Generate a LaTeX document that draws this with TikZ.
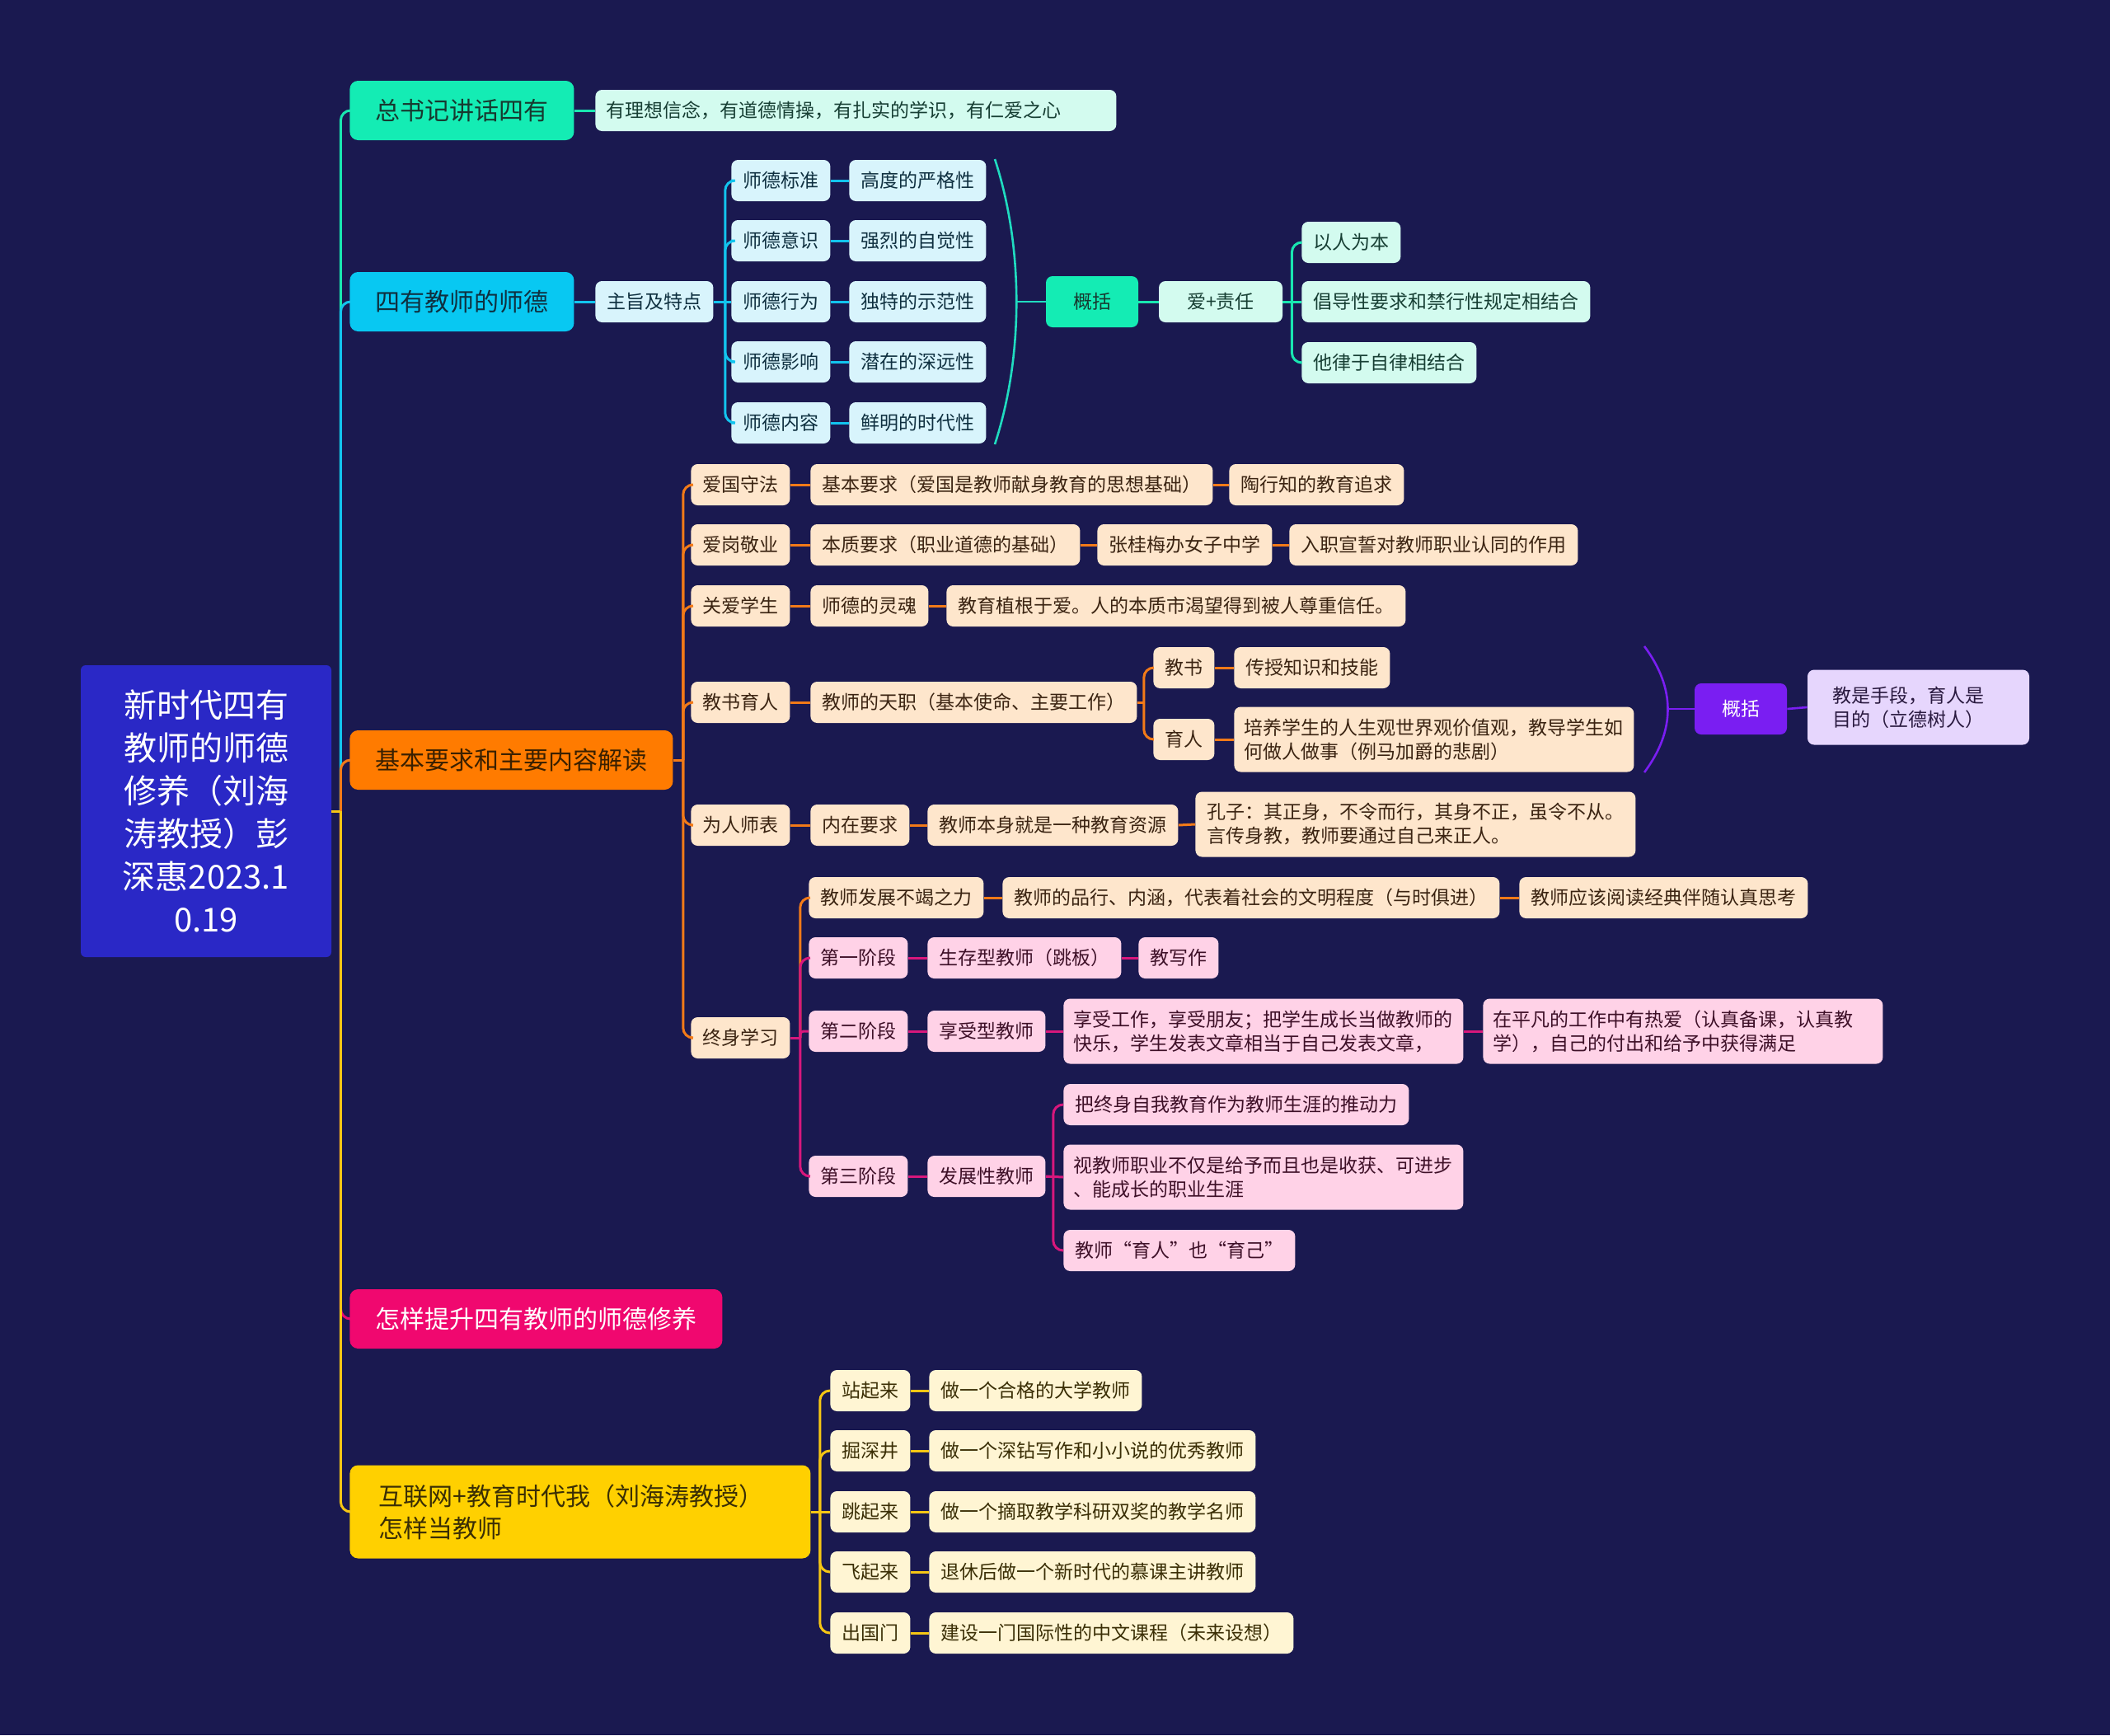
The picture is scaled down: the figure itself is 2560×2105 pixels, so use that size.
\documentclass[tikz,border=0pt]{standalone}
\usepackage{fontspec}
\setmainfont{Noto Sans CJK SC}
\definecolor{bg}{HTML}{1A1950}
\definecolor{rootc}{HTML}{2A28C6}
\definecolor{tealc}{HTML}{14ECB4}
\definecolor{tealtxt}{HTML}{17392F}
\definecolor{mint}{HTML}{D3FBEF}
\definecolor{minttxt}{HTML}{173F34}
\definecolor{cyanc}{HTML}{08C8F2}
\definecolor{cyantxt}{HTML}{0F3040}
\definecolor{lcyan}{HTML}{D8F4FC}
\definecolor{orangec}{HTML}{FF7B00}
\definecolor{orangetxt}{HTML}{3A2000}
\definecolor{peach}{HTML}{FEE6CC}
\definecolor{browntxt}{HTML}{3B2412}
\definecolor{pinkc}{HTML}{F0086F}
\definecolor{lpink}{HTML}{FFD2E7}
\definecolor{pinktxt}{HTML}{3E1028}
\definecolor{purplec}{HTML}{7A1EF2}
\definecolor{lavender}{HTML}{E6D6FD}
\definecolor{lavtxt}{HTML}{2A1A40}
\definecolor{yellowc}{HTML}{FFD000}
\definecolor{yellowtxt}{HTML}{3A2E05}
\definecolor{cream}{HTML}{FFF5D3}
\definecolor{lnA}{HTML}{19E6B0}
\definecolor{lnB}{HTML}{12C4EE}
\definecolor{lnC}{HTML}{F27A18}
\definecolor{lnD}{HTML}{EC0B6E}
\definecolor{lnE}{HTML}{F6C614}
\definecolor{lnP}{HTML}{D8177C}
\definecolor{lnBr}{HTML}{20DCC0}
\definecolor{lnPu}{HTML}{7A1EF2}
\tikzset{
  rootbox/.style={fill=rootc,text=white,rounded corners=3pt,minimum width=152pt,minimum height=177pt,align=center,inner sep=0pt,font=\fontsize{20}{26}\selectfont},
  lvlone/.style={anchor=west,rounded corners=5pt,inner xsep=15.5pt,inner ysep=0pt,minimum height=36pt,font=\fontsize{15}{19.5}\selectfont},
  sm/.style={anchor=west,rounded corners=4pt,inner xsep=7pt,inner ysep=1pt,minimum height=25pt,font=\fontsize{11.5}{14.5}\selectfont},
  ml/.style={text width=230pt,align=left,inner xsep=6.25pt,minimum height=39.5pt},
  famA/.style={fill=mint,text=minttxt},
  famB/.style={fill=lcyan,text=cyantxt},
  famC/.style={fill=peach,text=browntxt},
  famP/.style={fill=lpink,text=pinktxt},
  famE/.style={fill=cream,text=yellowtxt},
  summ/.style={anchor=center,minimum width=56pt,minimum height=31pt},
  lA/.style={draw=lnA,line width=1.5pt},
  lB/.style={draw=lnB,line width=1.5pt},
  lC/.style={draw=lnC,line width=1.5pt},
  lD/.style={draw=lnD,line width=1.5pt},
  lE/.style={draw=lnE,line width=1.5pt},
  lP/.style={draw=lnP,line width=1.5pt},
  lBr/.style={draw=lnBr,line width=1.3pt},
  lPu/.style={draw=lnPu,line width=1.3pt},
}
\newcommand\mmconn[4]{%
  \draw[#1] (#2.east) -- ++(#3,0) coordinate (mmtmp);
  \draw[#1,rounded corners=6pt] (mmtmp) |- (#4.west);
}
\newcommand\mmconnS[4]{%
  \draw[#1] (#2.east) -- ++(#3,0) coordinate (mmtmp);
  \draw[#1,rounded corners=2pt] (mmtmp) |- (#4.west);
}
\begin{document}
\begin{tikzpicture}[x=0.5pt,y=-0.5pt]
\fill[bg] (0,0) rectangle (2560,2105);
\useasboundingbox (0,0) rectangle (2560,2105);

% root
\node[rootbox] (root) at (250,984) {新时代四有\\教师的师德\\修养（刘海\\涛教授）彭\\深惠2023.1\\0.19};

% level one
\node[lvlone,fill=tealc,text=tealtxt] (A) at (424,134) {总书记讲话四有};
\node[lvlone,fill=cyanc,text=cyantxt] (B) at (424,366) {四有教师的师德};
\node[lvlone,fill=orangec,text=orangetxt] (C) at (424,922) {基本要求和主要内容解读};
\node[lvlone,fill=pinkc,text=white] (D) at (424,1600) {怎样提升四有教师的师德修养};
\node[lvlone,fill=yellowc,text=yellowtxt,text width=244.5pt,align=left,inner xsep=17.5pt,minimum height=56.5pt] (E) at (424,1834) {互联网+教育时代我（刘海涛教授）\\怎样当教师};

% A branch
\node[sm,famA,text width=303pt,align=left,inner xsep=6.5pt] (A1) at (722,134) {有理想信念，有道德情操，有扎实的学识，有仁爱之心};

% B branch
\node[sm,famB] (B1) at (722,366) {主旨及特点};
\node[sm,famB] (b21) at (887,219) {师德标准};
\node[sm,famB] (b22) at (887,292) {师德意识};
\node[sm,famB] (b23) at (887,366) {师德行为};
\node[sm,famB] (b24) at (887,439) {师德影响};
\node[sm,famB] (b25) at (887,513) {师德内容};
\node[sm,famB] (b31) at (1030,219) {高度的严格性};
\node[sm,famB] (b32) at (1030,292) {强烈的自觉性};
\node[sm,famB] (b33) at (1030,366) {独特的示范性};
\node[sm,famB] (b34) at (1030,439) {潜在的深远性};
\node[sm,famB] (b35) at (1030,513) {鲜明的时代性};
\node[sm,summ,fill=tealc,text=tealtxt] (B4) at (1325,366) {概括};
\node[sm,famA,anchor=center,minimum width=75pt] (B5) at (1481,366) {爱+责任};
\node[sm,famA] (b61) at (1579,294) {以人为本};
\node[sm,famA] (b62) at (1579,366) {倡导性要求和禁行性规定相结合};
\node[sm,famA] (b63) at (1579,440) {他律于自律相结合};

% C branch
\node[sm,famC] (c1) at (838,588) {爱国守法};
\node[sm,famC] (c1a) at (983,588) {基本要求（爱国是教师献身教育的思想基础）};
\node[sm,famC] (c1b) at (1491,588) {陶行知的教育追求};
\node[sm,famC] (c2) at (838,661) {爱岗敬业};
\node[sm,famC] (c2a) at (983,661) {本质要求（职业道德的基础）};
\node[sm,famC] (c2b) at (1331,661) {张桂梅办女子中学};
\node[sm,famC] (c2c) at (1564,661) {入职宣誓对教师职业认同的作用};
\node[sm,famC] (c3) at (838,735) {关爱学生};
\node[sm,famC] (c3a) at (983,735) {师德的灵魂};
\node[sm,famC] (c3b) at (1148,735) {教育植根于爱。人的本质市渴望得到被人尊重信任。};
\node[sm,famC] (c4) at (838,852) {教书育人};
\node[sm,famC] (c4a) at (983,852) {教师的天职（基本使命、主要工作）};
\node[sm,famC] (c4b) at (1399,810) {教书};
\node[sm,famC] (c4b1) at (1497,810) {传授知识和技能};
\node[sm,famC] (c4c) at (1399,897) {育人};
\node[sm,famC,ml] (c4c1) at (1497,897) {培养学生的人生观世界观价值观，教导学生如\\何做人做事（例马加爵的悲剧）};
\node[sm,summ,fill=purplec,text=white] (c4d) at (2112,860) {概括};
\node[sm,anchor=center,fill=lavender,text=lavtxt,text width=104pt,align=left,inner xsep=15.25pt,minimum height=45.5pt] (c4e) at (2327.5,858) {教是手段，育人是\\目的（立德树人）};
\node[sm,famC] (c5) at (838,1001) {为人师表};
\node[sm,famC] (c5a) at (983,1001) {内在要求};
\node[sm,famC] (c5b) at (1125,1001) {教师本身就是一种教育资源};
\node[sm,famC,ml,text width=253pt,inner xsep=7pt] (c5c) at (1450,1000) {孔子：其正身，不令而行，其身不正，虽令不从。\\言传身教，教师要通过自己来正人。};
\node[sm,famC] (c6) at (838,1259) {终身学习};
\node[sm,famC] (c6a) at (981,1089) {教师发展不竭之力};
\node[sm,famC] (c6a1) at (1216,1089) {教师的品行、内涵，代表着社会的文明程度（与时俱进）};
\node[sm,famC] (c6a2) at (1843,1089) {教师应该阅读经典伴随认真思考};
\node[sm,famP] (c6b) at (981,1162) {第一阶段};
\node[sm,famP] (c6b1) at (1125,1162) {生存型教师（跳板）};
\node[sm,famP] (c6b2) at (1381,1162) {教写作};
\node[sm,famP] (c6c) at (981,1251) {第二阶段};
\node[sm,famP] (c6c1) at (1125,1251) {享受型教师};
\node[sm,famP,ml] (c6c2) at (1290,1251) {享受工作，享受朋友；把学生成长当做教师的\\快乐，学生发表文章相当于自己发表文章，};
\node[sm,famP,ml] (c6c3) at (1799,1251) {在平凡的工作中有热爱（认真备课，认真教\\学），自己的付出和给予中获得满足};
\node[sm,famP] (c6d) at (981,1427) {第三阶段};
\node[sm,famP] (c6d1) at (1125,1427) {发展性教师};
\node[sm,famP] (c6e1) at (1290,1340) {把终身自我教育作为教师生涯的推动力};
\node[sm,famP,ml] (c6e2) at (1290,1428) {视教师职业不仅是给予而且也是收获、可进步\\、能成长的职业生涯};
\node[sm,famP] (c6e3) at (1290,1517) {教师“育人”也“育己”};

% E branch
\node[sm,famE] (e1) at (1007,1687) {站起来};
\node[sm,famE] (e1a) at (1127,1687) {做一个合格的大学教师};
\node[sm,famE] (e2) at (1007,1760) {掘深井};
\node[sm,famE] (e2a) at (1127,1760) {做一个深钻写作和小小说的优秀教师};
\node[sm,famE] (e3) at (1007,1834) {跳起来};
\node[sm,famE] (e3a) at (1127,1834) {做一个摘取教学科研双奖的教学名师};
\node[sm,famE] (e4) at (1007,1907) {飞起来};
\node[sm,famE] (e4a) at (1127,1907) {退休后做一个新时代的慕课主讲教师};
\node[sm,famE] (e5) at (1007,1981) {出国门};
\node[sm,famE] (e5a) at (1127,1981) {建设一门国际性的中文课程（未来设想）};

% ---------- connectors ----------
% root branches
\mmconn{lA}{root}{11}{A}
\mmconn{lB}{root}{11}{B}
\mmconn{lC}{root}{11}{C}
\mmconn{lD}{root}{11}{D}
\mmconn{lE}{root}{11}{E}

% A
\draw[lA] (A.east) -- (A1.west);

% B
\draw[lB] (B.east) -- (B1.west);
\mmconn{lB}{B1}{14}{b21}
\mmconn{lB}{B1}{14}{b22}
\draw[lB] (B1.east) -- (b23.west);
\mmconn{lB}{B1}{14}{b24}
\mmconn{lB}{B1}{14}{b25}
\foreach \i in {1,...,5}{\draw[lB] (b2\i.east) -- (b3\i.west);}
\coordinate (brtop) at (1207,193);
\coordinate (brbot) at (1207,539);
\coordinate (brmid) at (1233,366);
\draw[lBr] (brtop) .. controls (1242,300) and (1242,432) .. (brbot);
\draw[lBr] (brmid) -- (B4.west);
\draw[lA] (B4.east) -- (B5.west);
\mmconn{lA}{B5}{11}{b61}
\draw[lA] (B5.east) -- (b62.west);
\mmconn{lA}{B5}{11}{b63}

% C
\foreach \n in {c1,c2,c3,c4,c5,c6}{\mmconn{lC}{C}{12}{\n}}
\draw[lC] (c1.east) -- (c1a.west);
\draw[lC] (c1a.east) -- (c1b.west);
\draw[lC] (c2.east) -- (c2a.west);
\draw[lC] (c2a.east) -- (c2b.west);
\draw[lC] (c2b.east) -- (c2c.west);
\draw[lC] (c3.east) -- (c3a.west);
\draw[lC] (c3a.east) -- (c3b.west);
\draw[lC] (c4.east) -- (c4a.west);
\mmconn{lC}{c4a}{8}{c4b}
\mmconn{lC}{c4a}{8}{c4c}
\draw[lC] (c4b.east) -- (c4b1.west);
\draw[lC] (c4c.east) -- (c4c1.west);
\coordinate (pbtop) at (1995,784);
\coordinate (pbbot) at (1995,937);
\coordinate (pbmid) at (2024,860);
\draw[lPu] (pbtop) .. controls (2033,835) and (2033,886) .. (pbbot);
\draw[lPu] (pbmid) -- (c4d.west);
\draw[lPu] (c4d.east) -- (c4e.west);
\draw[lC] (c5.east) -- (c5a.west);
\draw[lC] (c5a.east) -- (c5b.west);
\draw[lC] (c5b.east) -- (c5c.west);
\mmconn{lC}{c6}{12}{c6a}
\draw[lC] (c6a.east) -- (c6a1.west);
\draw[lC] (c6a1.east) -- (c6a2.west);
\mmconn{lP}{c6}{12}{c6b}
\mmconnS{lP}{c6}{12}{c6c}
\mmconn{lP}{c6}{12}{c6d}
\draw[lP] (c6b.east) -- (c6b1.west);
\draw[lP] (c6b1.east) -- (c6b2.west);
\draw[lP] (c6c.east) -- (c6c1.west);
\draw[lP] (c6c1.east) -- (c6c2.west);
\draw[lP] (c6c2.east) -- (c6c3.west);
\draw[lP] (c6d.east) -- (c6d1.west);
\mmconn{lP}{c6d1}{9}{c6e1}
\draw[lP] (c6d1.east) -- (c6e2.west);
\mmconn{lP}{c6d1}{9}{c6e3}

% E
\mmconn{lE}{E}{11}{e1}
\mmconn{lE}{E}{11}{e2}
\draw[lE] (E.east) -- (e3.west);
\mmconn{lE}{E}{11}{e4}
\mmconn{lE}{E}{11}{e5}
\foreach \i in {1,...,5}{\draw[lE] (e\i.east) -- (e\i a.west);}
\end{tikzpicture}
\end{document}
